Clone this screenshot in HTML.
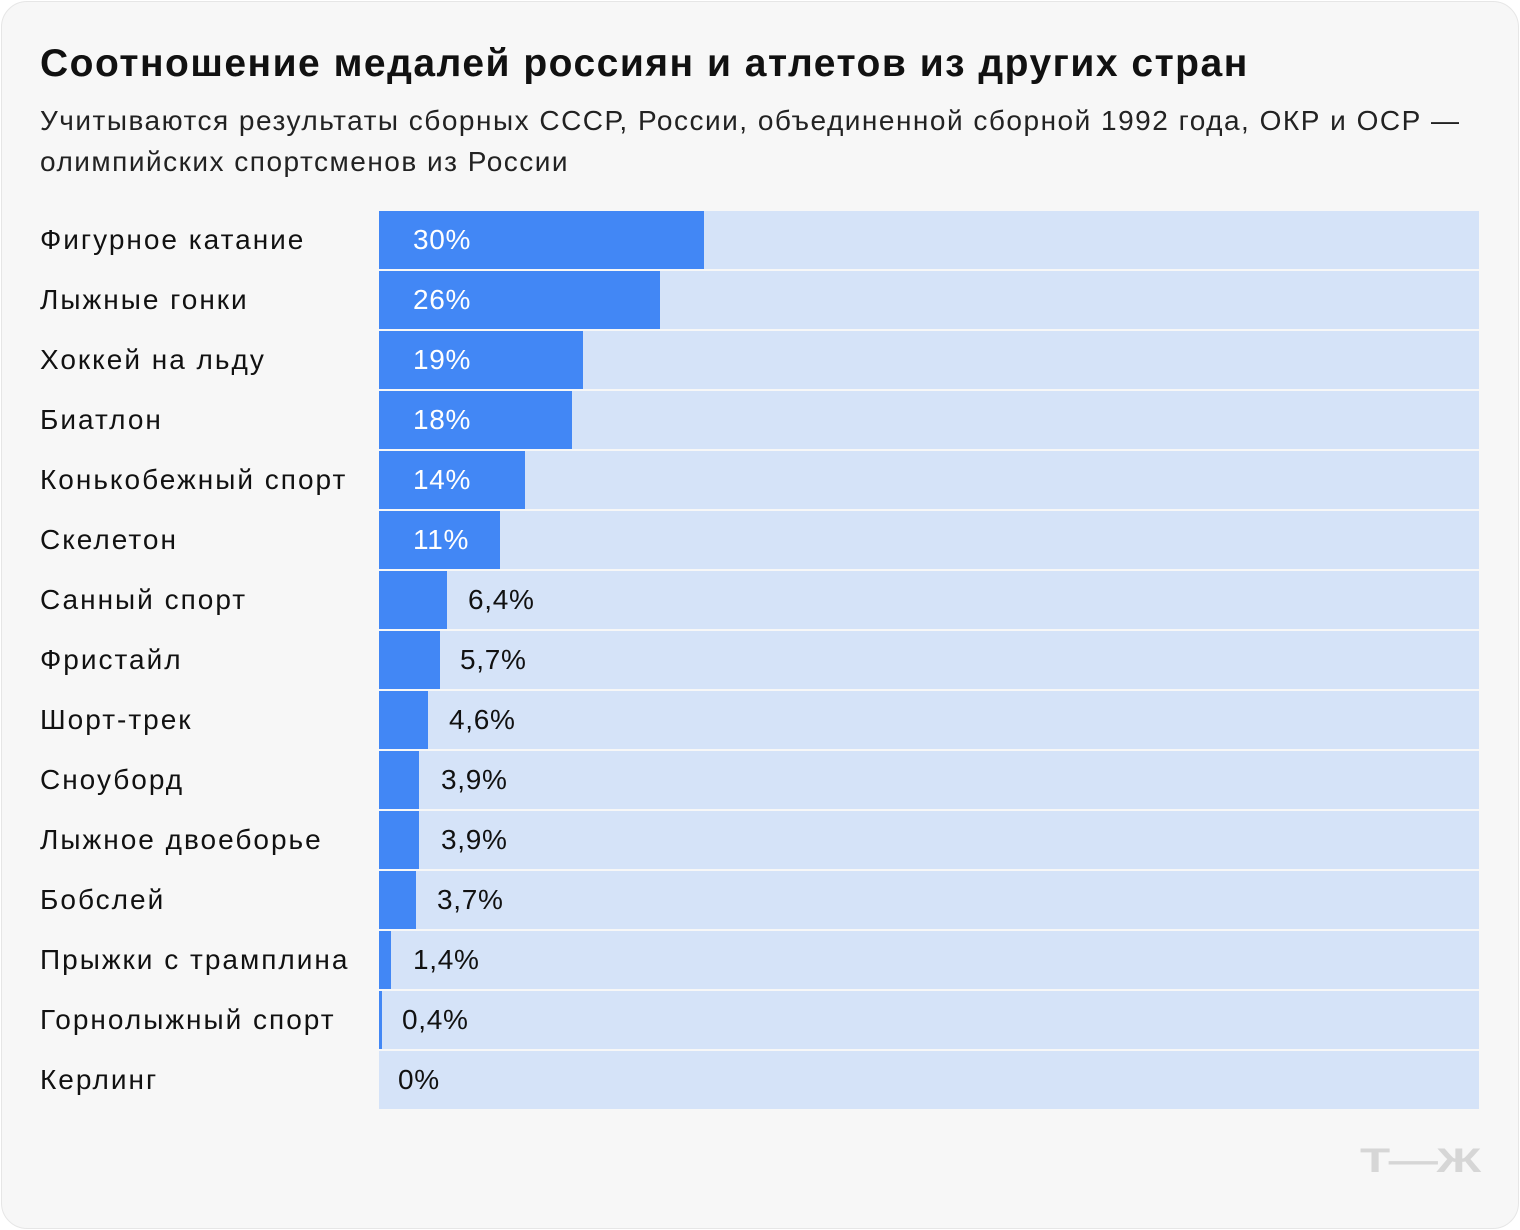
<!DOCTYPE html>
<html><head><meta charset="utf-8"><style>
body{margin:0;background:#fff;width:1520px;height:1230px;overflow:hidden;font-family:"Liberation Sans","Noto Sans CJK SC",sans-serif;}
.card{position:absolute;left:1px;top:1px;width:1516px;height:1226px;background:#f7f7f7;border:1px solid #e6e6e6;border-radius:26px;}
h1{position:absolute;left:40px;top:42px;margin:0;font-size:39px;font-weight:bold;color:#111;letter-spacing:1.5px;white-space:nowrap;}
.sub{position:absolute;left:40px;top:100px;font-size:28px;line-height:41px;color:#222;width:1460px;letter-spacing:1.5px;white-space:nowrap;}
.lab{position:absolute;left:40px;font-size:28px;color:#111;line-height:60px;letter-spacing:2px;white-space:nowrap;}
.bg{position:absolute;left:379px;width:1100px;height:58px;background:#d5e3f8;}
.bar{position:absolute;left:379px;height:58px;background:#4287f5;}
.v{position:absolute;font-size:28px;line-height:58px;color:#111;letter-spacing:0.7px;}
.w{color:#fff;}
.logo{position:absolute;left:1360px;top:1142px;font-size:34px;font-weight:bold;color:#d6d6d6;transform:scaleX(1.45);transform-origin:left top;letter-spacing:-1px;}
</style></head><body>
<div class="card"></div>
<h1>Соотношение медалей россиян и атлетов из других стран</h1>
<div class="sub">Учитываются результаты сборных СССР, России, объединенной сборной 1992 года, ОКР и ОСР —<br>олимпийских спортсменов из России</div>
<div id="c"></div>
<div class="logo">Т—Ж</div>
<script>
var d=[["Фигурное катание","30%",704,413,1],["Лыжные гонки","26%",660,413,1],["Хоккей на льду","19%",583,413,1],["Биатлон","18%",572,413,1],["Конькобежный спорт","14%",525,413,1],["Скелетон","11%",500,413,1],["Санный спорт","6,4%",447,468,0],["Фристайл","5,7%",440,460,0],["Шорт-трек","4,6%",428,449,0],["Сноуборд","3,9%",419,441,0],["Лыжное двоеборье","3,9%",419,441,0],["Бобслей","3,7%",416,437,0],["Прыжки с трамплина","1,4%",391,413,0],["Горнолыжный спорт","0,4%",382,402,0],["Керлинг","0%",379,398,0]];
var h="";d.forEach(function(r,i){var y=211+i*60;
h+='<div class="lab" style="top:'+(y-1)+'px">'+r[0]+'</div><div class="bg" style="top:'+y+'px"></div>';
if(r[2]>379)h+='<div class="bar" style="top:'+y+'px;width:'+(r[2]-379)+'px"></div>';
h+='<div class="v'+(r[4]?' w':'')+'" style="top:'+y+'px;left:'+r[3]+'px">'+r[1]+'</div>';});
document.getElementById("c").innerHTML=h;
</script>
</body></html>
